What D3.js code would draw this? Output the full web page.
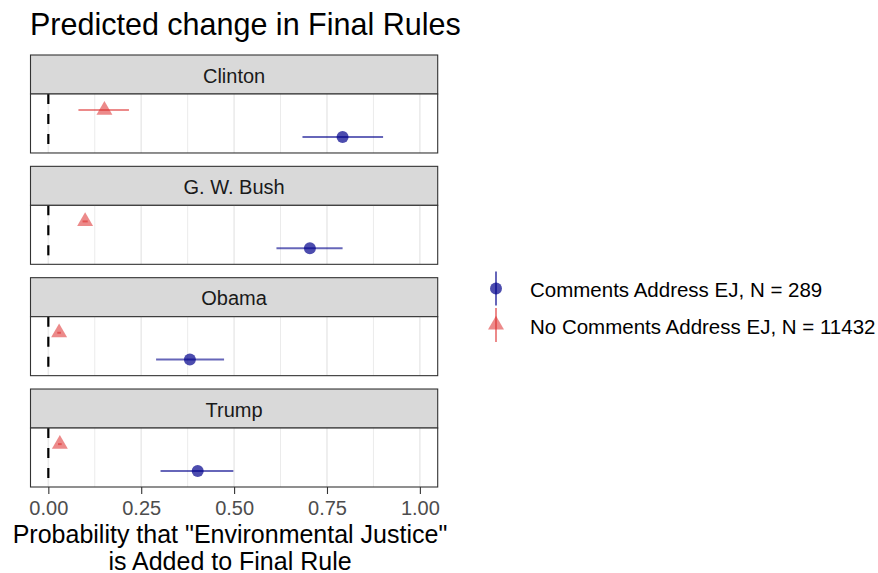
<!DOCTYPE html>
<html>
<head>
<meta charset="utf-8">
<script src="https://cdn.jsdelivr.net/npm/d3@7"></script>
<style>
  body { margin: 0; background: #fff; }
  text { font-family: "Liberation Sans", Arial, sans-serif; }
</style>
</head>
<body>
<div id="chart"></div>
<script>
// data
const presidents = ["Clinton", "G. W. Bush", "Obama", "Trump"];
const groups = ["No Comments Address EJ, N = 11432", "Comments Address EJ, N = 289"];
const legendOrder = ["Comments Address EJ, N = 289", "No Comments Address EJ, N = 11432"];

// estimate, lower, upper per president
const ejEst   = [0.792, 0.704, 0.381, 0.402];
const ejLow   = [0.684, 0.614, 0.290, 0.302];
const ejHigh  = [0.901, 0.792, 0.473, 0.498];
const noEst   = [0.151, 0.099, 0.029, 0.031];
const noLow   = [0.081, 0.092, 0.024, 0.026];
const noHigh  = [0.217, 0.106, 0.034, 0.036];

const xTicks = [0, 0.25, 0.5, 0.75, 1];
const xMinor = [0.125, 0.375, 0.625, 0.875];

const rows = [];
presidents.forEach((p, i) => {
    rows.push({pres: p, group: groups[1], est: ejEst[i], lo: ejLow[i], hi: ejHigh[i]});
    rows.push({pres: p, group: groups[0], est: noEst[i], lo: noLow[i], hi: noHigh[i]});
});

const width = 878;
const height = 573;
const left = 30.5, right = 437.7;
const stripH = 39;

const colors = {};
colors[groups[1]] = "#00008b";
colors[groups[0]] = "#dd2a2a";

const svg = d3.select("#chart").append("svg")
    .attr("width", width)
    .attr("height", height);

const x = d3.scaleLinear()
    .domain([-0.048, 1.048])
    .range([left, right]);

const panel = d3.scaleBand()
    .domain(presidents)
    .range([55, 487])
    .paddingInner(0.12);

const bodyH = panel.bandwidth() - stripH;

const y = d3.scalePoint()
    .domain(groups)
    .range([0, bodyH])
    .padding(0.6);

const tri = d3.symbol().type(d3.symbolTriangle).size(110);

// title
svg.append("text")
    .attr("x", 30)
    .attr("y", 35)
    .style("font-size", "30.5px")
    .style("fill", "#000")
    .text("Predicted change in Final Rules");

presidents.forEach(p => {
    const top = panel(p);
    const g = svg.append("g").attr("transform", `translate(0,${top})`);

    // strip
    g.append("rect")
        .attr("x", left).attr("y", 0)
        .attr("width", right - left).attr("height", stripH)
        .style("fill", "#d9d9d9")
        .style("stroke", "#333")
        .style("stroke-width", 1.1);
    g.append("text")
        .attr("x", (left + right) / 2)
        .attr("y", 27.5)
        .attr("text-anchor", "middle")
        .style("font-size", "20px")
        .style("fill", "#1a1a1a")
        .text(p);

    const body = g.append("g").attr("transform", `translate(0,${stripH})`);

    body.append("rect")
        .attr("x", left).attr("y", 0)
        .attr("width", right - left).attr("height", bodyH)
        .style("fill", "#fff");

    body.selectAll(".minor").data(xMinor).enter().append("line")
        .attr("x1", d => x(d)).attr("x2", d => x(d))
        .attr("y1", 0).attr("y2", bodyH)
        .style("stroke", "#ebebeb").style("stroke-width", 1);
    body.selectAll(".major").data(xTicks).enter().append("line")
        .attr("x1", d => x(d)).attr("x2", d => x(d))
        .attr("y1", 0).attr("y2", bodyH)
        .style("stroke", "#ebebeb").style("stroke-width", 1.6);

    // zero line
    body.append("line")
        .attr("x1", x(0)).attr("x2", x(0))
        .attr("y1", 0).attr("y2", bodyH)
        .style("stroke", "#000")
        .style("stroke-width", 2.2)
        .style("stroke-dasharray", "10,10");

    const d = rows.filter(r => r.pres === p);

    body.selectAll(".err").data(d).enter().append("line")
        .attr("x1", r => x(r.lo)).attr("x2", r => x(r.hi))
        .attr("y1", r => y(r.group)).attr("y2", r => y(r.group))
        .style("stroke", r => colors[r.group])
        .style("stroke-opacity", r => r.group === groups[1] ? 0.6 : 0.55)
        .style("stroke-width", 2);

    body.selectAll(".pt").data(d.filter(r => r.group === groups[1])).enter().append("circle")
        .attr("cx", r => x(r.est)).attr("cy", r => y(r.group))
        .attr("r", 6)
        .style("fill", r => colors[r.group])
        .style("fill-opacity", 0.7);

    body.selectAll(".tri").data(d.filter(r => r.group === groups[0])).enter().append("path")
        .attr("d", tri)
        .attr("transform", r => `translate(${x(r.est)},${y(r.group)})`)
        .style("fill", r => colors[r.group])
        .style("fill-opacity", 0.55);

    body.append("rect")
        .attr("x", left).attr("y", 0)
        .attr("width", right - left).attr("height", bodyH)
        .style("fill", "none")
        .style("stroke", "#333")
        .style("stroke-width", 1.1);
});

// x axis
const bottom = panel(presidents[3]) + panel.bandwidth();
const axis = svg.append("g")
    .attr("transform", `translate(0,${bottom})`)
    .call(d3.axisBottom(x).tickValues(xTicks).tickFormat(d3.format(".2f")).tickSize(7).tickPadding(7));
axis.select(".domain").remove();
axis.selectAll(".tick line").style("stroke", "#333").style("stroke-width", 1.1);
axis.selectAll(".tick text")
    .style("font-size", "20px")
    .style("fill", "#4d4d4d")
    .style("font-family", "Liberation Sans, Arial, sans-serif");

const cx = 230;
const xt = svg.append("text")
    .attr("text-anchor", "middle")
    .style("font-size", "25px")
    .style("fill", "#000");
xt.append("tspan").attr("x", cx).attr("y", 543)
    .text('Probability that "Environmental Justice"');
xt.append("tspan").attr("x", cx).attr("y", 569.5)
    .text("is Added to Final Rule");

// legend
const leg = svg.append("g");
legendOrder.forEach((gname, i) => {
    const ly = 288.5 + i * 36.5;
    const kx = 496;
    leg.append("line")
        .attr("x1", kx).attr("x2", kx)
        .attr("y1", ly - 17).attr("y2", ly + 17)
        .style("stroke", colors[gname])
        .style("stroke-opacity", i === 0 ? 0.6 : 0.55)
        .style("stroke-width", 2);
    if (i === 0) {
        leg.append("circle")
            .attr("cx", kx).attr("cy", ly).attr("r", 6)
            .style("fill", colors[gname]).style("fill-opacity", 0.7);
    } else {
        leg.append("path")
            .attr("d", tri)
            .attr("transform", `translate(${kx},${ly})`)
            .style("fill", colors[gname]).style("fill-opacity", 0.55);
    }
    leg.append("text")
        .attr("x", 530)
        .attr("y", ly + 8.5)
        .style("font-size", "20.5px")
        .style("fill", "#000")
        .text(gname);
});
</script>
</body>
</html>
